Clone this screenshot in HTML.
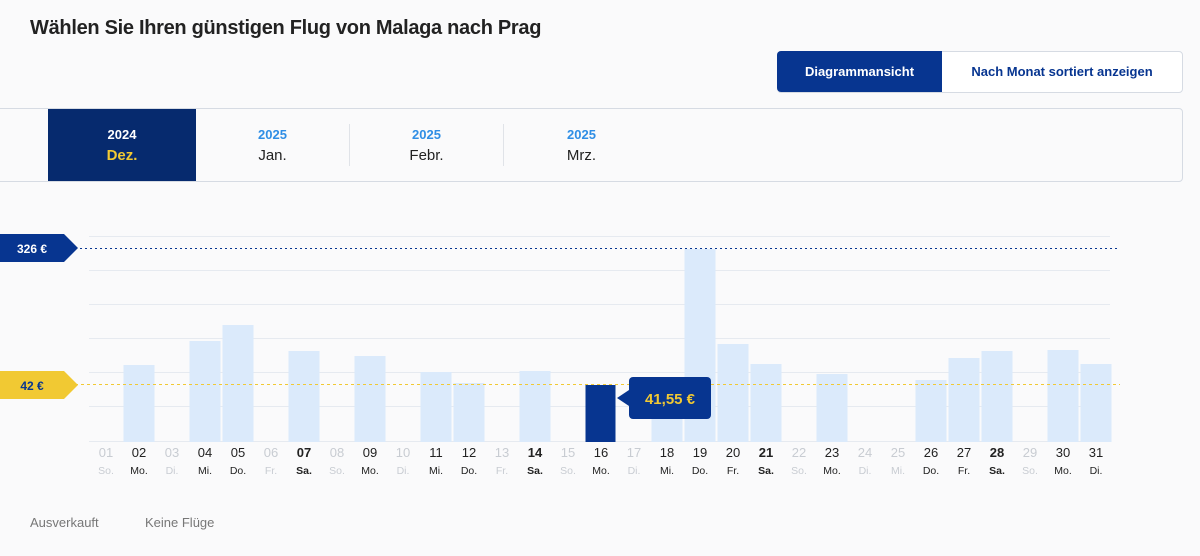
<!DOCTYPE html>
<html><head><meta charset="utf-8"><style>
body{margin:0;width:1200px;height:556px;background:#fafafb;font-family:"Liberation Sans",sans-serif;position:relative;overflow:hidden}
.a{position:absolute}
</style></head><body>
<div class="a" style="left:30px;top:17px;font-size:20px;font-weight:bold;color:#222;letter-spacing:-0.3px">Wählen Sie Ihren günstigen Flug von Malaga nach Prag</div>
<div class="a" style="left:777px;top:51px;width:404px;height:40px;border:1px solid #d6dbe3;border-radius:4px;background:#fff"></div>
<div class="a" style="left:777px;top:51px;width:165px;height:41px;background:#073590;border-radius:4px 0 0 4px;color:#fff;font-size:13px;font-weight:bold;line-height:41px;text-align:center">Diagrammansicht</div>
<div class="a" style="left:942px;top:51px;width:240px;height:41px;color:#073590;font-size:13px;font-weight:bold;line-height:41px;text-align:center">Nach Monat sortiert anzeigen</div>
<div class="a" style="left:-5px;top:108px;width:1186px;height:72px;border:1px solid #d6dbe3;border-radius:4px;background:#fafafb"></div>
<div class="a" style="left:48px;top:109px;width:148px;height:72px;background:#062a6e"></div>
<div class="a" style="left:48px;top:127px;width:148px;text-align:center;font-size:13px;font-weight:bold;color:#fff">2024</div>
<div class="a" style="left:48px;top:147px;width:148px;text-align:center;font-size:15px;font-weight:bold;color:#f1c933">Dez.</div>
<div class="a" style="left:349px;top:124px;width:1px;height:42px;background:#e0e3e8"></div>
<div class="a" style="left:503px;top:124px;width:1px;height:42px;background:#e0e3e8"></div>
<div class="a" style="left:196px;top:127px;width:153px;text-align:center;font-size:13px;font-weight:bold;color:#2f8ee5">2025</div>
<div class="a" style="left:196px;top:147px;width:153px;text-align:center;font-size:15px;color:#222">Jan.</div>
<div class="a" style="left:350px;top:127px;width:153px;text-align:center;font-size:13px;font-weight:bold;color:#2f8ee5">2025</div>
<div class="a" style="left:350px;top:147px;width:153px;text-align:center;font-size:15px;color:#222">Febr.</div>
<div class="a" style="left:504px;top:127px;width:155px;text-align:center;font-size:13px;font-weight:bold;color:#2f8ee5">2025</div>
<div class="a" style="left:504px;top:147px;width:155px;text-align:center;font-size:15px;color:#222">Mrz.</div>

<svg class="a" style="left:0;top:0" width="1200" height="556" font-family="Liberation Sans, sans-serif">
<g stroke="#e6eaf0" stroke-width="1">
<line x1="89" x2="1110" y1="236.5" y2="236.5"/><line x1="89" x2="1110" y1="270.5" y2="270.5"/><line x1="89" x2="1110" y1="304.5" y2="304.5"/><line x1="89" x2="1110" y1="338.5" y2="338.5"/><line x1="89" x2="1110" y1="372.5" y2="372.5"/><line x1="89" x2="1110" y1="406.5" y2="406.5"/><line x1="89" x2="1110" y1="441.5" y2="441.5"/>
</g>
<g fill="#dbeafb">
<rect x="123.5" y="365" width="31" height="77"/>
<rect x="189.5" y="341" width="31" height="101"/>
<rect x="222.5" y="325" width="31" height="117"/>
<rect x="288.5" y="351" width="31" height="91"/>
<rect x="354.5" y="356" width="31" height="86"/>
<rect x="420.5" y="372" width="31" height="70"/>
<rect x="453.5" y="383" width="31" height="59"/>
<rect x="519.5" y="371" width="31" height="71"/>
<rect x="651.5" y="395" width="31" height="47"/>
<rect x="684.5" y="249" width="31" height="193"/>
<rect x="717.5" y="344" width="31" height="98"/>
<rect x="750.5" y="364" width="31" height="78"/>
<rect x="816.5" y="374" width="31" height="68"/>
<rect x="915.5" y="380" width="31" height="62"/>
<rect x="948.5" y="358" width="31" height="84"/>
<rect x="981.5" y="351" width="31" height="91"/>
<rect x="1047.5" y="350" width="31" height="92"/>
<rect x="1080.5" y="364" width="31" height="78"/>
</g>
<rect x="585.5" y="385" width="30" height="57" fill="#073590"/>
<line x1="75" x2="1120" y1="248.5" y2="248.5" stroke="#073590" stroke-dasharray="2,3"/>
<line x1="75" x2="1120" y1="384.5" y2="384.5" stroke="#f1c933" stroke-dasharray="3,3"/>
<polygon points="0,234 64,234 78,248 64,262 0,262" fill="#073590"/>
<text x="32" y="253" fill="#fff" font-size="12" font-weight="bold" text-anchor="middle">326 €</text>
<polygon points="0,371 64,371 78,385 64,399 0,399" fill="#f1c933"/>
<text x="32" y="390" fill="#073590" font-size="12" font-weight="bold" text-anchor="middle">42 €</text>
<rect x="629" y="377" width="82" height="42" rx="4" fill="#073590"/>
<polygon points="629,390 617,398 629,406" fill="#073590"/>
<text x="670" y="404" fill="#f1c933" font-size="15" font-weight="bold" text-anchor="middle">41,55 €</text>
<g font-size="13" text-anchor="middle">
<g fill="#c8ccd2">
<text x="106" y="457">01</text><text x="172" y="457">03</text><text x="271" y="457">06</text><text x="337" y="457">08</text><text x="403" y="457">10</text><text x="502" y="457">13</text><text x="568" y="457">15</text><text x="634" y="457">17</text><text x="799" y="457">22</text><text x="865" y="457">24</text><text x="898" y="457">25</text><text x="1030" y="457">29</text>
</g>
<g fill="#222">
<text x="139" y="457">02</text><text x="205" y="457">04</text><text x="238" y="457">05</text><text x="370" y="457">09</text><text x="436" y="457">11</text><text x="469" y="457">12</text><text x="601" y="457">16</text><text x="667" y="457">18</text><text x="700" y="457">19</text><text x="733" y="457">20</text><text x="832" y="457">23</text><text x="931" y="457">26</text><text x="964" y="457">27</text><text x="1063" y="457">30</text><text x="1096" y="457">31</text>
</g>
<g fill="#222" font-weight="bold">
<text x="304" y="457">07</text><text x="535" y="457">14</text><text x="766" y="457">21</text><text x="997" y="457">28</text>
</g>
</g>
<g font-size="10.5" text-anchor="middle">
<g fill="#c8ccd2">
<text x="106" y="474">So.</text><text x="172" y="474">Di.</text><text x="271" y="474">Fr.</text><text x="337" y="474">So.</text><text x="403" y="474">Di.</text><text x="502" y="474">Fr.</text><text x="568" y="474">So.</text><text x="634" y="474">Di.</text><text x="799" y="474">So.</text><text x="865" y="474">Di.</text><text x="898" y="474">Mi.</text><text x="1030" y="474">So.</text>
</g>
<g fill="#222">
<text x="139" y="474">Mo.</text><text x="205" y="474">Mi.</text><text x="238" y="474">Do.</text><text x="370" y="474">Mo.</text><text x="436" y="474">Mi.</text><text x="469" y="474">Do.</text><text x="601" y="474">Mo.</text><text x="667" y="474">Mi.</text><text x="700" y="474">Do.</text><text x="733" y="474">Fr.</text><text x="832" y="474">Mo.</text><text x="931" y="474">Do.</text><text x="964" y="474">Fr.</text><text x="1063" y="474">Mo.</text><text x="1096" y="474">Di.</text>
</g>
<g fill="#222" font-weight="bold">
<text x="304" y="474">Sa.</text><text x="535" y="474">Sa.</text><text x="766" y="474">Sa.</text><text x="997" y="474">Sa.</text>
</g>
</g>
<text x="30" y="527" fill="#777" font-size="13">Ausverkauft</text>
<text x="145" y="527" fill="#777" font-size="13">Keine Flüge</text>
</svg>
</body></html>
